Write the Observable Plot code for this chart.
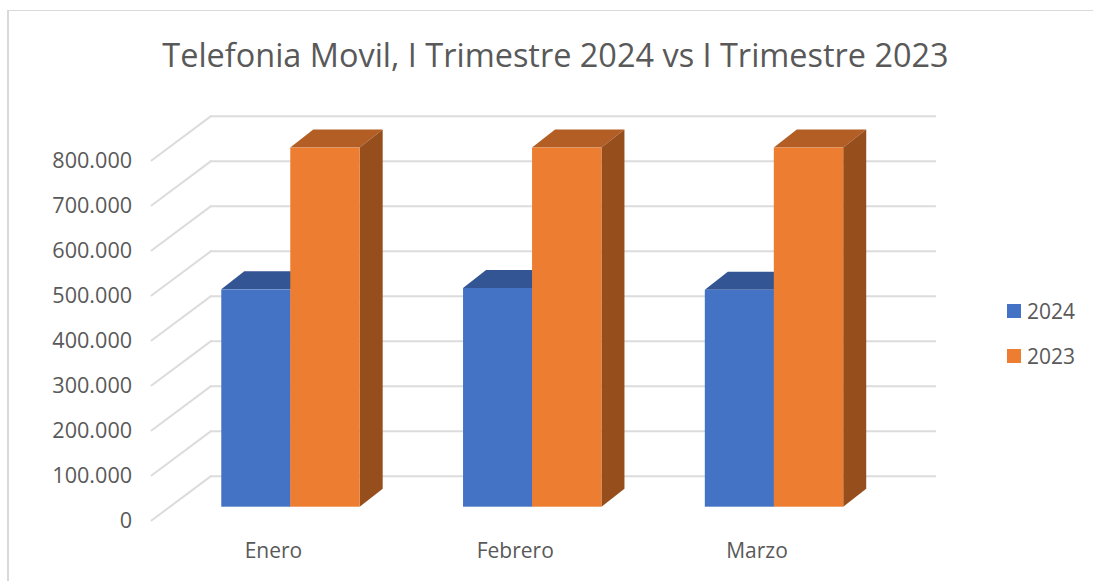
<!DOCTYPE html>
<html>
<head>
<meta charset="utf-8">
<script src="https://cdn.jsdelivr.net/npm/d3@7"></script>
<script src="https://cdn.jsdelivr.net/npm/@observablehq/plot@0.6"></script>
<style>
  html, body { margin: 0; padding: 0; background: #fff; }
  #chart { position: relative; width: 1093px; height: 581px; overflow: hidden; font-family: "Open Sans", sans-serif; color: #595959; }
  #chart svg { display: block; position: absolute; left: 0; top: 0; background: transparent; }
  #border { position: absolute; left: 7px; top: 10px; width: 1086px; height: 571px; border-left: 2px solid #d9d9d9; border-top: 1.5px solid #d9d9d9; box-sizing: border-box; }
  #title { position: absolute; left: 8px; right: 0; top: 33px; text-align: center; font-size: 32.45px; line-height: 44px; white-space: nowrap; transform: translateX(5px); }
  .key { position: absolute; left: 1007px; font-size: 21px; line-height: 24px; height: 24px; display: flex; align-items: center; }
  .key i { display: block; width: 14px; height: 14px; margin-right: 6px; }
</style>
</head>
<body>
<div id="chart">
  <div id="border"></div>
  <div id="title"></div>
</div>
<script>
const titleText = "Telefonia Movil, I Trimestre 2024 vs I Trimestre 2023";
const months = ["Enero", "Febrero", "Marzo"];
const series = ["2024", "2023"];
const values2024 = [483000, 486000, 482000];
const values2023 = [798000, 798000, 798000];
const tickValues = [0, 100000, 200000, 300000, 400000, 500000, 600000, 700000, 800000];
const frontColors = ["#4472C4", "#ED7D31"];
const topColors = ["#335593", "#B25E25"];
const sideColor = "#964F1C";

const rows2024 = months.map((m, i) => ({month: m, value: values2024[i]}));
const rows2023 = months.map((m, i) => ({month: m, value: values2023[i]}));

const formatTick = d => d3.format(",")(d).replace(/,/g, ".");

// depth of the bar box, in screen pixels
const barDepthX = 23, barDepthY = 18;

// Turn each bar rectangle that Plot placed into a parallelogram face
function face(kind) {
  return function (index, scales, values, dimensions, context, next) {
    const g = next(index, scales, values, dimensions, context);
    d3.select(g).selectAll("rect").each(function () {
      const r = d3.select(this);
      const x = +r.attr("x"), y = +r.attr("y"), w = +r.attr("width"), h = +r.attr("height");
      const pts = kind === "top"
        ? [[x, y], [x + w, y], [x + w + barDepthX, y - barDepthY], [x + barDepthX, y - barDepthY]]
        : [[x + w, y], [x + w + barDepthX, y - barDepthY], [x + w + barDepthX, y + h - barDepthY], [x + w, y + h]];
      const p = document.createElementNS("http://www.w3.org/2000/svg", "polygon");
      p.setAttribute("points", pts.map(q => q.join(",")).join(" "));
      this.parentNode.insertBefore(p, this);
      const tr = r.attr("transform");
      if (tr) p.setAttribute("transform", tr);
      r.remove();
    });
    return g;
  };
}

const barW = 69.4;
const inset = (241.75 - barW) / 2;
const bar = (rows, dx, fill, render) => Plot.barY(rows, {
  x: "month", y: "value", fill, dx, insetLeft: inset, insetRight: inset, render
});

const floorSpike = {
  draw(context, l) { context.moveTo(0, 0); context.lineTo(0, -l); }
};

const plot = Plot.plot({
  width: 1093,
  height: 581,
  marginLeft: 169.6,
  marginRight: 198.1,
  marginTop: 56.7,
  marginBottom: 74.3,
  style: {background: "transparent", fontFamily: "'Open Sans', sans-serif", color: "#595959", overflow: "visible"},
  x: {type: "band", domain: months, padding: 0, round: false, label: null},
  y: {domain: [0, 1000000], label: null},
  marks: [
    Plot.ruleY(tickValues, {y: d => d, stroke: "#dcdcdc", strokeWidth: 2, dx: 41, dy: -31}),
    Plot.vector(tickValues, {
      y: d => d, frameAnchor: "left", anchor: "start", length: 74.2, rotate: 53.3,
      shape: floorSpike, stroke: "#dcdcdc", strokeWidth: 2, dx: -18.6, dy: 13.3
    }),
    bar(rows2024, -34.5, topColors[0], face("top")),
    bar(rows2023, 34.5, topColors[1], face("top")),
    bar(rows2024, -34.5, frontColors[0]),
    bar(rows2023, 34.5, sideColor, face("side")),
    bar(rows2023, 34.5, frontColors[1]),
    Plot.axisY({
      ticks: tickValues, tickFormat: formatTick, tickSize: 0, tickPadding: 0, dx: -38, dy: 13.5,
      fontSize: 21.6, fill: "#595959", label: null, textAnchor: "end"
    }),
    Plot.axisX({
      tickSize: 0, tickPadding: 36, dx: -17.5, fontSize: 21, fill: "#595959", label: null
    })
  ]
});

const chart = document.getElementById("chart");
chart.appendChild(plot);
document.getElementById("title").textContent = titleText;
series.forEach((s, i) => {
  const k = document.createElement("div");
  k.className = "key";
  k.style.top = (299 + i * 45) + "px";
  k.innerHTML = `<i style="background:${frontColors[i]}"></i><span>${s}</span>`;
  chart.appendChild(k);
});
</script>
</body>
</html>
